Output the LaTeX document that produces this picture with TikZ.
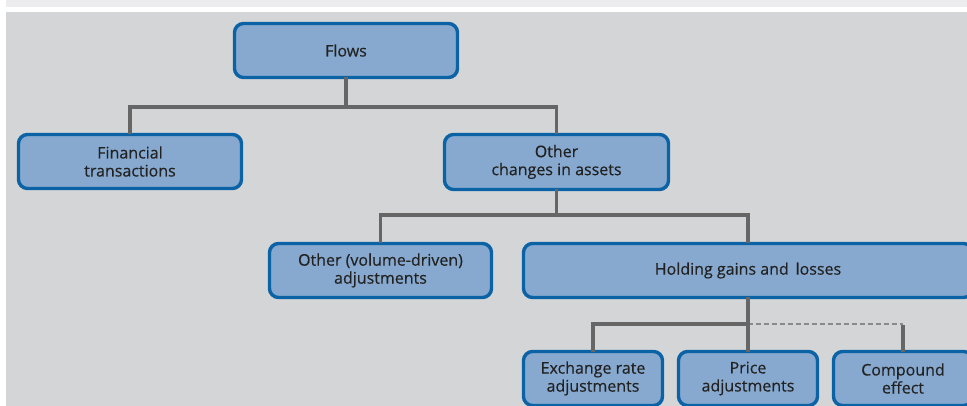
\documentclass[tikz,border=0pt]{standalone}
\usepackage{fontspec}
\setmainfont{Open Sans}[FakeBold=0.4]
\definecolor{panel}{HTML}{D4D5D7}
\definecolor{strip}{HTML}{ECECEE}
\definecolor{boxfill}{HTML}{87A9CF}
\definecolor{boxline}{HTML}{0B63A5}
\definecolor{connline}{HTML}{666666}
\definecolor{dashline}{HTML}{8A8A8A}
\definecolor{txt}{HTML}{222222}
\tikzset{
  box/.style={draw=boxline, fill=boxfill, line width=3.4pt, rounded corners=9pt,
    inner sep=0pt, outer sep=0pt, align=center, text=txt,
    font=\fontsize{16pt}{18pt}\selectfont},
  conn/.style={draw=connline, line width=3.2pt},
  dconn/.style={draw=dashline, line width=2.6pt, dash pattern=on 5pt off 3pt},
}
\begin{document}
\begin{tikzpicture}[x=1pt,y=-1pt]
\useasboundingbox (0,0) rectangle (967,406);
\fill[white] (0,0) rectangle (967,406);
\fill[strip] (6,0) rectangle (967,7);
\fill[panel] (6,12) rectangle (967,406);
\begin{scope}
\clip (6,12) rectangle (967,406);
% nodes
\node[box, minimum width=223pt, minimum height=54pt] (flows) at (346,50.5) {Flows};
\node[box, minimum width=223pt, minimum height=54pt] (fin) at (130,161.5) {Financial\\transactions};
\node[box, minimum width=224pt, minimum height=55pt] (oth) at (556.5,162) {Other\\changes in assets};
\node[box, minimum width=222pt, minimum height=54pt] (vol) at (380.5,270.5) {Other (volume-driven)\\adjustments};
\node[box, minimum width=449pt, minimum height=54pt] (hold) at (748,270.5) {Holding gains and\ \,losses};
\node[box, minimum width=139pt, minimum height=54pt] (exch) at (593,378.5) {Exchange rate\\adjustments};
\node[box, minimum width=139pt, minimum height=54pt] (price) at (748,378.5) {Price\\adjustments};
\node[box, minimum width=139pt, minimum height=54pt] (comp) at (903,378.5) {Compound\\effect};
% bus coordinates
\coordinate (bus1) at (0,107);
\coordinate (bus2) at (0,215);
\coordinate (bus3) at (0,324);
% connectors
\draw[conn] (flows.south) -- (flows.south |- bus1);
\draw[conn] (fin.north) |- (oth.north |- bus1) -- (oth.north);
\draw[conn] (oth.south) -- (oth.south |- bus2);
\draw[conn] (vol.north) |- (hold.north |- bus2) -- (hold.north);
\draw[dconn] (price.north |- bus3) -- (comp.north |- bus3);
\draw[conn] (hold.south) -- (price.north);
\draw[conn] (exch.north) |- (price.north |- bus3);
\draw[conn] (comp.north) -- ([yshift=-1.3pt]comp.north |- bus3);
\end{scope}
\end{tikzpicture}
\end{document}
